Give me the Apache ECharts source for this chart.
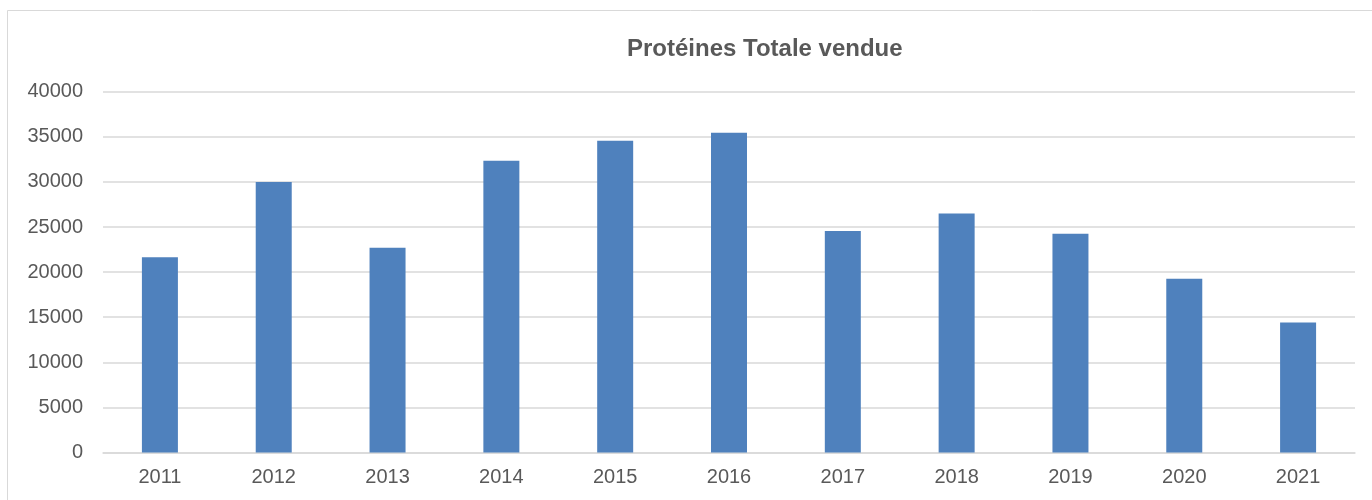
<!DOCTYPE html>
<html>
<head>
<meta charset="utf-8">
<script src="https://cdn.jsdelivr.net/npm/echarts@6/dist/echarts.min.js"></script>
<style>
html,body{margin:0;padding:0;background:#fff;}
#c{width:1372px;height:500px;}
</style>
</head>
<body>
<div id="c"></div>
<script>
const categories = ['2011','2012','2013','2014','2015','2016','2017','2018','2019','2020','2021'];
const values = [21650, 30000, 22700, 32350, 34550, 35450, 24550, 26500, 24250, 19250, 14400];
const titleText = 'Protéines Totale vendue';

const chart = echarts.init(document.getElementById('c'), null, {renderer:'canvas'});
chart.setOption({
  backgroundColor: '#ffffff',
  animation: false,
  textStyle: {fontFamily: '"Liberation Sans", Arial, sans-serif'},
  graphic: [{
    type: 'rect',
    shape: {x: 7.5, y: 10.5, width: 1400, height: 520},
    style: {fill: 'none', stroke: '#d9d9d9', lineWidth: 1},
    silent: true, z: -10
  }],
  title: {
    text: titleText,
    left: 627,
    top: 37,
    padding: 0,
    textStyle: {fontFamily: '"Liberation Sans", Arial, sans-serif', fontSize: 24, fontWeight: 'bold', color: '#595959'}
  },
  grid: {left: 103, right: 17, top: 91.7, bottom: 47.5, containLabel: false},
  xAxis: {
    type: 'category',
    data: categories,
    axisLine: {show: true, lineStyle: {color: '#d9d9d9', width: 1.5}},
    axisTick: {show: false},
    axisLabel: {color: '#595959', fontSize: 20, margin: 15, fontFamily: '"Liberation Sans", Arial, sans-serif'}
  },
  yAxis: {
    type: 'value',
    min: 0, max: 40000, interval: 5000,
    axisLine: {show: false},
    axisTick: {show: false},
    splitLine: {lineStyle: {color: '#d9d9d9', width: 1.5}},
    axisLabel: {color: '#595959', fontSize: 20, margin: 20, fontFamily: '"Liberation Sans", Arial, sans-serif',
      formatter: function (v) { return String(v); }}
  },
  series: [{
    type: 'bar',
    data: values,
    barWidth: 36,
    itemStyle: {color: '#4f81bd'}
  }]
});
</script>
</body>
</html>
